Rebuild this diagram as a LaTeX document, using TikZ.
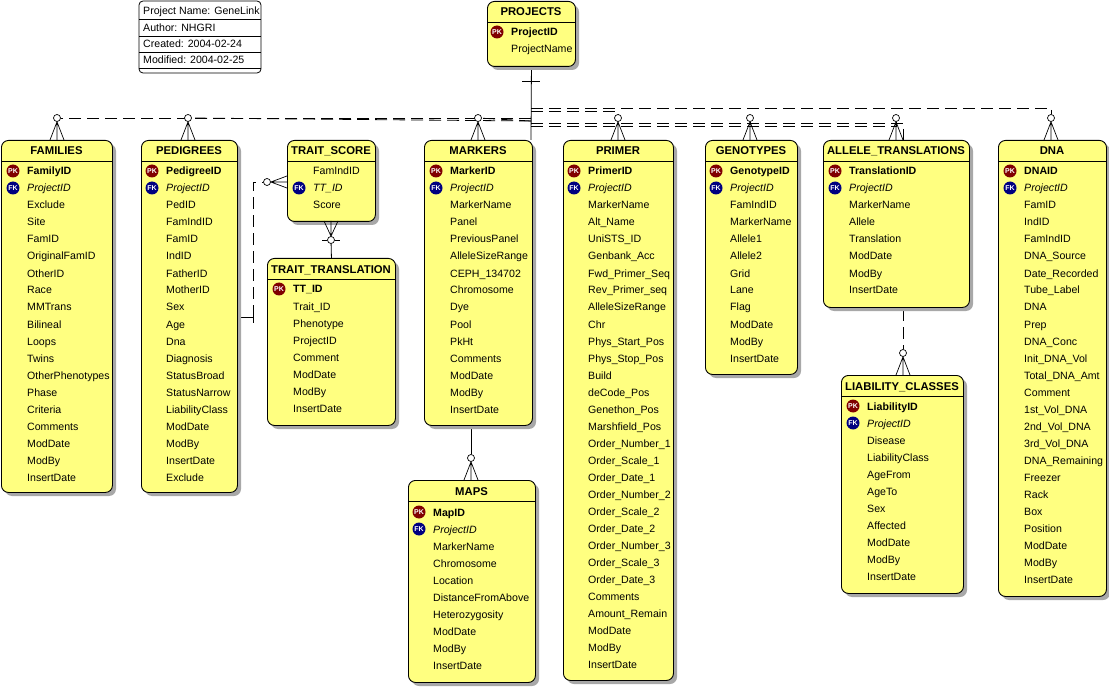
\documentclass[tikz,border=0pt]{standalone}
\usepackage{fontspec}
\setmainfont{Liberation Sans}
\usetikzlibrary{calc}
\pgfdeclarelayer{bg}
\pgfdeclarelayer{paper}
\pgfsetlayers{paper,bg,main}
\definecolor{eyellow}{HTML}{FFFF80}
\definecolor{eshadow}{HTML}{A8A8A8}
\definecolor{pkred}{HTML}{800000}
\definecolor{fkblue}{HTML}{000080}
\newcommand{\rf}{\fontsize{10.6}{12}\selectfont}
\newcommand{\tf}{\fontsize{11.3}{13}\selectfont}
\tikzset{
 ebox/.style={draw=black, line width=0.9pt, fill=eyellow, rounded corners=7pt, inner sep=0pt},
 eshad/.style={fill=eshadow, rounded corners=7pt},
 etitle/.style={anchor=base, font=\tf\bfseries, inner sep=0pt},
 rowtxt/.style={anchor=base west, inner sep=0pt, font=\rf},
 keyico/.style={circle, inner sep=0pt, minimum size=13pt, text=white, font=\fontsize{7}{7}\selectfont\bfseries},
 rel/.style={line width=0.8pt, dash pattern=on 12pt off 6pt},
 idrel/.style={line width=0.8pt},
 opt/.style={circle, draw, fill=white, inner sep=0pt, minimum size=7pt, line width=0.7pt},
 crow/.style={line width=0.7pt},
 infotxt/.style={anchor=base west, inner sep=0pt, font=\fontsize{10.6}{12}\selectfont},
}
% entity: name, left, top, right, bottom, title
\newcommand{\ent}[6]{%
 \fill[eshad] (#2+4,#3+4) rectangle (#4+4,#5+4);
 \node[ebox, anchor=north west, minimum width={(#4-#2)*1pt}, minimum height={(#5-#3)*1pt}] (#1) at (#2,#3) {};
 \node[etitle] (#1-title) at ({(#2+#4)/2},#3+15) {#6};
 \draw[line width=0.8pt] (#2,#3+21) -- (#4,#3+21);
}
\newcommand{\pkrow}[4]{\node[keyico, fill=pkred] (#1-pkicon) at (#2-14,#3) {PK};
 \node[rowtxt, font=\rf\bfseries] (#1-pk) at (#2,#3+4) {#4};}
\newcommand{\fkrow}[4]{\node[keyico, fill=fkblue] (#1-fkicon) at (#2-14,#3) {FK};
 \node[rowtxt, font=\rf\itshape] (#1-fk) at (#2,#3+4) {#4};}
\newcommand{\plainrows}[4]{\foreach \rn [count=\i] in {#4} {\node[rowtxt] (#1-\i) at (#2,{#3+17*(\i-1)+4}) {\rn};}}
% top crow's foot: circle name, x, entity top
\newcommand{\topfork}[3]{%
 \node[opt] (#1) at (#2,#3-22) {};
 \draw[crow] (#1.south) -- (#2-7,#3) (#1.south) -- (#2,#3) (#1.south) -- (#2+7,#3);}
\begin{document}
\begin{tikzpicture}[x=1pt,y=-1pt]
\useasboundingbox (0,0) rectangle (1109,687);
\begin{pgfonlayer}{paper}
\fill[white] (0,0) rectangle (1109,687);
\end{pgfonlayer}

% info box
\draw[line width=0.8pt, fill=white, rounded corners=4pt] (139,1) rectangle (261,73);
\draw[line width=0.8pt] (139,19) -- (261,19) (139,36) -- (261,36) (139,52) -- (261,52) (139,68) -- (261,68);
\node[infotxt] (info1) at (143,15) {Project Name: GeneLink};
\node[infotxt] (info2) at (143,32) {Author: NHGRI};
\node[infotxt] (info3) at (143,48) {Created: 2004-02-24};
\node[infotxt] (info4) at (143,64) {Modified: 2004-02-25};

% PROJECTS
\ent{projects}{487}{1}{575}{66}{PROJECTS}
\pkrow{proj}{511}{32}{ProjectID}
\plainrows{proj}{511}{49}{ProjectName}

% FAMILIES
\ent{families}{1}{140}{112}{492}{FAMILIES}
\pkrow{fam}{27}{171}{FamilyID}
\fkrow{fam}{27}{188}{ProjectID}
\plainrows{fam}{27}{205}{Exclude,Site,FamID,OriginalFamID,OtherID,Race,MMTrans,Bilineal,Loops,Twins,OtherPhenotypes,Phase,Criteria,Comments,ModDate,ModBy,InsertDate}
\topfork{famO}{57}{140}

% PEDIGREES
\ent{pedigrees}{141}{140}{237}{492}{PEDIGREES}
\pkrow{ped}{166}{171}{PedigreeID}
\fkrow{ped}{166}{188}{ProjectID}
\plainrows{ped}{166}{205}{PedID,FamIndID,FamID,IndID,FatherID,MotherID,Sex,Age,Dna,Diagnosis,StatusBroad,StatusNarrow,LiabilityClass,ModDate,ModBy,InsertDate,Exclude}
\topfork{pedO}{188}{140}

% TRAIT_SCORE
\ent{tscore}{287}{140}{375}{221}{TRAIT\_SCORE}
\plainrows{tsa}{313}{171}{FamIndID}
\fkrow{ts}{313}{188}{TT\_ID}
\plainrows{tsb}{313}{205}{Score}

% TRAIT_TRANSLATION
\ent{ttrans}{267}{258}{395}{425}{TRAIT\_TRANSLATION}
\pkrow{tt}{293}{289}{TT\_ID}
\plainrows{tt}{293}{306}{Trait\_ID,Phenotype,ProjectID,Comment,ModDate,ModBy,InsertDate}

% MARKERS
\ent{markers}{424}{140}{532}{425}{MARKERS}
\pkrow{mk}{450}{171}{MarkerID}
\fkrow{mk}{450}{188}{ProjectID}
\plainrows{mk}{450}{205}{MarkerName,Panel,PreviousPanel,AlleleSizeRange,CEPH\_134702,Chromosome,Dye,Pool,PkHt,Comments,ModDate,ModBy,InsertDate}
\topfork{marO}{478}{140}

% MAPS
\ent{maps}{408}{480}{535}{682}{MAPS}
\pkrow{mp}{433}{512}{MapID}
\fkrow{mp}{433}{529}{ProjectID}
\plainrows{mp}{433}{546}{MarkerName,Chromosome,Location,DistanceFromAbove,Heterozygosity,ModDate,ModBy,InsertDate}
\topfork{mapO}{471}{480}

% PRIMER
\ent{primer}{563}{140}{673}{680}{PRIMER}
\pkrow{pr}{588}{171}{PrimerID}
\fkrow{pr}{588}{188}{ProjectID}
\plainrows{pr}{588}{205}{MarkerName,Alt\_Name,UniSTS\_ID,Genbank\_Acc,Fwd\_Primer\_Seq,Rev\_Primer\_seq,AlleleSizeRange,Chr,Phys\_Start\_Pos,Phys\_Stop\_Pos,Build,deCode\_Pos,Genethon\_Pos,Marshfield\_Pos,Order\_Number\_1,Order\_Scale\_1,Order\_Date\_1,Order\_Number\_2,Order\_Scale\_2,Order\_Date\_2,Order\_Number\_3,Order\_Scale\_3,Order\_Date\_3,Comments,Amount\_Remain,ModDate,ModBy,InsertDate}
\topfork{priO}{618}{140}

% GENOTYPES
\ent{genotypes}{705}{140}{797}{374}{GENOTYPES}
\pkrow{gt}{730}{171}{GenotypeID}
\fkrow{gt}{730}{188}{ProjectID}
\plainrows{gt}{730}{205}{FamIndID,MarkerName,Allele1,Allele2,Grid,Lane,Flag,ModDate,ModBy,InsertDate}
\topfork{genO}{750}{140}

% ALLELE_TRANSLATIONS
\ent{alleletr}{823}{140}{969}{307}{ALLELE\_TRANSLATIONS}
\pkrow{at}{849}{171}{TranslationID}
\fkrow{at}{849}{188}{ProjectID}
\plainrows{at}{849}{205}{MarkerName,Allele,Translation,ModDate,ModBy,InsertDate}
\topfork{allO}{896}{140}

% LIABILITY_CLASSES
\ent{liability}{841}{375}{963}{593}{LIABILITY\_CLASSES}
\pkrow{lc}{867}{406}{LiabilityID}
\fkrow{lc}{867}{423}{ProjectID}
\plainrows{lc}{867}{440}{Disease,LiabilityClass,AgeFrom,AgeTo,Sex,Affected,ModDate,ModBy,InsertDate}
\topfork{liaO}{903}{375}

% DNA
\ent{dna}{998}{140}{1106}{596}{DNA}
\pkrow{dn}{1024}{171}{DNAID}
\fkrow{dn}{1024}{188}{ProjectID}
\plainrows{dn}{1024}{205}{FamID,IndID,FamIndID,DNA\_Source,Date\_Recorded,Tube\_Label,DNA,Prep,DNA\_Conc,Init\_DNA\_Vol,Total\_DNA\_Amt,Comment,1st\_Vol\_DNA,2nd\_Vol\_DNA,3rd\_Vol\_DNA,DNA\_Remaining,Freezer,Rack,Box,Position,ModDate,ModBy,InsertDate}
\topfork{dnaO}{1051}{140}

% TRAIT_SCORE -> TRAIT_TRANSLATION
\node[opt] (tsO) at (331,240) {};
\draw[crow] (tsO.north) -- (324,221) (tsO.north) -- (331,221) (tsO.north) -- (338,221);
\draw[crow] (tsO.west) -- ++(-5,0) (tsO.east) -- ++(5,0);

% PEDIGREES -> TRAIT_SCORE circle
\node[opt] (tsL) at (267,182) {};
\draw[crow] (tsL.east) -- (287,176) (tsL.east) -- (287,182) (tsL.east) -- (287,188);

\begin{pgfonlayer}{bg}
 % trunk from PROJECTS
 \coordinate (trunkEnd) at (531,140);
 \draw[idrel] (projects.south) -- (trunkEnd);
 \coordinate (tickL) at (522,81); \coordinate (tickR) at (540,81);
 \draw[idrel] (tickL) -- (tickR);
 \coordinate (jA) at (531,108);
 \coordinate (jB) at (531,111);
 \coordinate (jC) at (531,118);
 \coordinate (jD) at (531,121);
 \coordinate (jE) at (531,123);
 \coordinate (jF) at (531,126);
 \coordinate (lcTurn) at (903,123);
 \draw[rel] (jA) -| (dnaO);
 \draw[rel] (jB) -| (priO);
 \draw[rel] (jC) -- (famO);
 \draw[rel] (jD) -- (pedO);
 \draw[rel] (jD) -- (marO);
 \draw[rel] (jE) -| (genO);
 \draw[rel] (jF) -| (allO);
 \draw[rel] (jE) -- (lcTurn) -- (liaO);
 % MARKERS -> MAPS
 \coordinate (mkB) at (471,425);
 \draw[idrel] (mkB) -- (mapO);
 % TRAIT_SCORE -> TRAIT_TRANSLATION
 \draw[idrel] (tsO) -- (ttrans.north);
 % PEDIGREES -> TRAIT_SCORE
 \coordinate (pdR) at (237,317);
 \coordinate (pdK) at (253,317);
 \draw[idrel] (pdR) -- (pdK);
 \draw[idrel] (253,311) -- (253,323);
 \draw[rel] (pdK) |- (tsL);
\end{pgfonlayer}
\end{tikzpicture}
\end{document}
